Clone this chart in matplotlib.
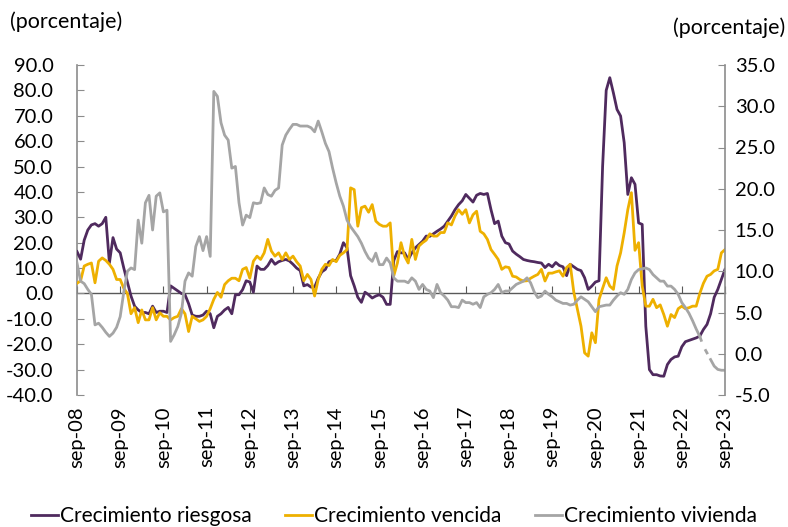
import matplotlib
matplotlib.use("Agg")
import matplotlib.pyplot as plt
import numpy as np

plt.rcParams['font.family'] = ['Lato', 'DejaVu Sans']

# ---- data (monthly, sep-08 .. sep-23) ----
riesgosa = [16.5, 13.5, 21, 25, 27, 27.5, 26.5, 27.5, 30, 12, 22, 17.5,
            16, 10, 4.5, -1, -5, -6.5, -7.5, -7.5, -8, -5, -7.5, -7,
            -7, -7.5, 3, 2, 1, 0, -0.5, -4, -8.5, -9, -9, -8.5,
            -7, -8, -13.5, -9, -8, -6.5, -5.5, -8, -0.5, -0.5, 1.5, 5,
            4.5, 0.5, 10.8, 9.5, 9.5, 11, 13.4, 11.5, 12.5, 13, 13.4, 12.8,
            11.5, 10, 9, 3, 3.5, 2.5, 2.5, 6, 8.5, 9.5, 12.5, 13,
            13, 15.5, 20, 18, 7, 3, -1.5, -3.5, 0.5, -0.5, -1.8, -1,
            -0.5, -1.5, -4.3, -4.3, 13, 16.5, 16, 16, 13.4, 16, 18, 19.3,
            20.6, 22.6, 22.5, 23.5, 24.5, 25.4, 26.5, 28.5, 30.5, 33, 35, 36.5,
            39, 37.5, 36, 38.7, 39.4, 39, 39.4, 33, 27.5, 28.5, 22.6, 20,
            19.5, 16.7, 15.5, 14.5, 13.4, 13, 12.7, 12.5, 12.2, 12, 10.2, 11.5,
            10.5, 12.2, 11, 10.5, 7, 11.5, 10.5, 9.5, 9, 6.2, 1.6, 2.9,
            4.5, 5, 50, 80, 85, 79, 72.5, 69.9, 59.4, 39, 45.6, 43,
            27.8, 27.2, -12.9, -30, -32, -32, -32.5, -32.6, -28, -26, -25, -24.7,
            -21, -19, -18.5, -18, -17.5, -16.8, -14.2, -12.2, -8, -1.5, 1.6, 5.5,
            9.5]

vencida = [4, 5, 10.8, 11.5, 12, 4.2, 12.7, 14, 13, 11.5, 9.5, 5.5,
           5.5, 2, 0, -8, -5.6, -11.5, -6.5, -10.4, -10.4, -5.6, -10.4, -7.6,
           -9, -9, -10.4, -9.5, -9, -6, -8, -15, -9, -10, -11, -10.4,
           -9, -6, -2.3, 0.4, -1.5, 3.5, 5, 6, 6, 5, 9.5, 10.2,
           6, 12.7, 14.7, 13.4, 16, 21.3, 16.7, 14.7, 16, 13.4, 16, 13.4,
           14.7, 12.5, 10.8, 5, 7.5, 5.5, -1, 5.5, 9.5, 11.5, 11, 13.4,
           12.5, 15, 16, 17.3, 41.6, 40.9, 26.5, 33.8, 34.4, 32, 35, 28.5,
           27.2, 26.5, 26.5, 27.8, 7, 12, 20, 14.7, 12, 21.3, 13.4, 18.7,
           20, 21, 23.5, 22.6, 22.6, 24, 24, 27.8, 27, 30.5, 33, 31.2,
           33, 27.8, 31, 32.4, 24.5, 23.5, 21.3, 17.3, 15.4, 13.4, 9.5, 10.5,
           10.2, 6.8, 6.5, 5.5, 4.9, 5, 6, 6.8, 7.5, 9.5, 4.9, 8,
           8, 8.5, 8.9, 6.8, 10.2, 11.5, 0.5, -6.3, -12.9, -23.4, -24.7, -15.5,
           -19.4, -2.4, 2, 6.2, 2.9, 1.6, 10.8, 16, 23.9, 33, 39.7, 17,
           20, 3, -5, -5, -2.3, -5.6, -4.5, -8.3, -12.9, -8.3, -9.5, -6,
           -5, -6, -5.6, -5, -5, 0, 4, 6.8, 7.5, 8.9, 9.5, 16,
           17.3]

vivienda = [11, 8.8, 8.5, 7.8, 7.2, 3.5, 3.7, 3.2, 2.6, 2.1, 2.5, 3.2,
            4.5, 7.5, 10, 10.4, 10.2, 16.2, 13.4, 18.3, 19.2, 15, 19.1, 19.5,
            17.2, 17.4, 1.5, 2.3, 3.3, 4.9, 8.8, 9.8, 9.4, 13, 14.2, 12.5,
            14.2, 11.8, 31.8, 31.2, 28, 26.5, 25.9, 22.5, 22.7, 18.3, 15.6,
            16.8, 16.5, 18.3, 18.2, 18.3, 20.1, 19.3, 19.1, 19.8, 20.1, 25.3, 26.5,
            27.2, 27.8, 27.8, 27.6, 27.6, 27.6, 27.4, 26.9, 28.2, 26.9, 25.5, 24.5,
            22.5, 20.7, 19.1, 17.9, 16.2, 15.4, 14.8, 14.2, 13.4, 12.4, 11.6, 11.2,
            12.2, 10.8, 10.8, 11.6, 11, 9.2, 8.8, 8.8, 8.8, 8.6, 9.2, 8.8,
            7.8, 8.4, 7.8, 7.6, 6.8, 8.4, 7.4, 7, 6.5, 5.7, 5.7, 5.6,
            6.5, 6.2, 6.2, 6, 6.2, 5.6, 6.9, 7.2, 7.4, 7.8, 8.4, 7.4,
            7.6, 7.6, 8, 8.4, 8.6, 8.8, 9.2, 8.6, 7.5, 6.8, 7, 7.6,
            7.2, 6.9, 6.5, 6.3, 6.1, 6.1, 5.9, 6, 6.5, 6.9, 6.6, 6.3,
            5.7, 5.1, 5.7, 5.8, 5.9, 5.9, 6.5, 7, 7.4, 7.2, 7.8, 9,
            9.8, 10.2, 10.3, 10.4, 10.2, 9.6, 9.2, 8.8, 8.8, 8.2, 8.2, 7.8,
            7.2, 6.2, 5.6, 4.9, 4, 3, 2.1, 0.9, 0.1, -0.7, -1.5, -1.9,
            -2, -2]

tick_labels = ['sep-08', 'sep-09', 'sep-10', 'sep-11', 'sep-12', 'sep-13', 'sep-14', 'sep-15',
               'sep-16', 'sep-17', 'sep-18', 'sep-19', 'sep-20', 'sep-21', 'sep-22', 'sep-23']

left_ticks = list(range(-40, 91, 10))
right_ticks = list(range(-5, 36, 5))

C_PURPLE = '#4F2A5E'
C_YELLOW = '#EEB000'
C_GRAY = '#A5A5A5'
C_AXIS = '#8C8C8C'

x = np.arange(len(riesgosa))
tick_pos = x[::12]

fig = plt.figure(figsize=(7.88, 5.27), dpi=100)
ax = fig.add_axes([77/788, 1-395/527, 648/788, 330/527])
ax2 = ax.twinx()

lw = 2.0
l1, = ax.plot(x, riesgosa, color=C_PURPLE, lw=lw, label='Crecimiento riesgosa', zorder=3)
l2, = ax.plot(x, vencida, color=C_YELLOW, lw=lw, label='Crecimiento vencida', zorder=3)

viv = np.array(vivienda, dtype=float)
solid1 = viv.copy(); solid1[174:] = np.nan
solid2 = viv.copy(); solid2[:176] = np.nan
dashed = np.full_like(viv, np.nan); dashed[173:177] = viv[173:177]
l3, = ax2.plot(x, solid1, color=C_GRAY, lw=lw, label='Crecimiento vivienda')
ax2.plot(x, solid2, color=C_GRAY, lw=lw)
ax2.plot(x, dashed, color=C_GRAY, lw=lw, linestyle=(0, (2, 3)))

ax.set_xlim(x[0], x[-1])
ax.set_ylim(-40, 90)
ax2.set_ylim(-5, 35)

ax.set_yticks(left_ticks)
ax.set_yticklabels([f'{v:.1f}' for v in left_ticks])
ax2.set_yticks(right_ticks)
ax2.set_yticklabels([f'{v:.1f}' for v in right_ticks])

ax.set_xticks(tick_pos)
ax.set_xticklabels(tick_labels, rotation=90)
ax.tick_params(axis='x', length=0, pad=8, labelsize=14.5, colors='black')

for a in (ax, ax2):
    a.spines['top'].set_visible(False)
    a.spines['bottom'].set_visible(False)
ax.spines['right'].set_visible(False)
ax2.spines['left'].set_visible(False)
ax.spines['left'].set_color(C_AXIS)
ax2.spines['right'].set_color(C_AXIS)
ax.spines['left'].set_linewidth(1.2)
ax2.spines['right'].set_linewidth(1.2)

ax.tick_params(axis='y', direction='in', length=5, color=C_AXIS, pad=17, labelsize=14.5)
ax2.tick_params(axis='y', direction='in', length=5, color=C_AXIS, pad=7, labelsize=14.5)

# zero line with upward tick marks
sec = ax.secondary_xaxis(40/130)
sec.set_xticks(tick_pos)
sec.tick_params(axis='x', direction='in', length=5, color='#595959', labelbottom=False)
sec.spines['bottom'].set_color('#595959')
sec.spines['bottom'].set_linewidth(1.0)

fig.text(10/788, 1-22/527, '(porcentaje)', fontsize=15.5, va='center', ha='left')
fig.text(785/788, 1-28/527, '(porcentaje)', fontsize=15.5, va='center', ha='right')

fig.legend(handles=[l1, l2, l3], loc='center', bbox_to_anchor=(0.5, 1-516/527), ncol=3,
           frameon=False, fontsize=15, handlelength=1.3, handletextpad=0.1, columnspacing=1.6)

fig.savefig('out.png', dpi=100)
